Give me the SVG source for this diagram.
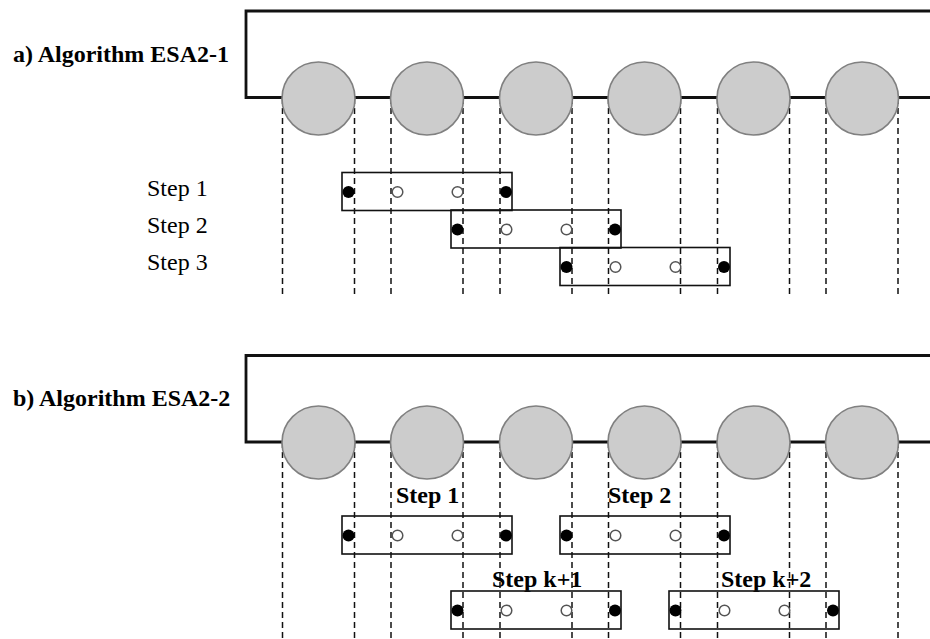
<svg xmlns="http://www.w3.org/2000/svg" width="930" height="639" viewBox="0 0 930 639">
<style>
.frame{fill:none;stroke:#111;stroke-width:2.8}
.dash{stroke:#111;stroke-width:1.5;stroke-dasharray:6 4}
.node{fill:#cccccc;stroke:#808080;stroke-width:1.6}
.box{fill:none;stroke:#111;stroke-width:1.6}
.full{fill:#000}
.empty{fill:#fff;stroke:#555;stroke-width:1.5}
.title{font-family:"Liberation Serif",serif;font-weight:bold;font-size:24px;fill:#000}
.step{font-family:"Liberation Serif",serif;font-size:24px;fill:#000}
.stepb{font-family:"Liberation Serif",serif;font-weight:bold;font-size:24px;fill:#000}
</style>
<defs>
<g id="win">
<rect class="box" x="0" y="0" width="170" height="38"/>
<circle class="full" cx="6.5" cy="19.5" r="6"/>
<circle class="empty" cx="55.5" cy="19.5" r="5.3"/>
<circle class="empty" cx="115.5" cy="19.5" r="5.3"/>
<circle class="full" cx="164" cy="19.5" r="6"/>
</g>
</defs>
<rect width="930" height="639" fill="#fff"/>

<!-- a) -->
<text class="title" x="13" y="62">a) Algorithm ESA2-1</text>
<g id="connectors-a">
<polyline class="frame" points="931,11 246,11 246,97.5 931,97.5"/>
<g>
<line class="dash" x1="282.5" y1="98" x2="282.5" y2="298"/>
<line class="dash" x1="354.5" y1="98" x2="354.5" y2="298"/>
<line class="dash" x1="391" y1="98" x2="391" y2="298"/>
<line class="dash" x1="463" y1="98" x2="463" y2="298"/>
<line class="dash" x1="500" y1="98" x2="500" y2="298"/>
<line class="dash" x1="572" y1="98" x2="572" y2="298"/>
<line class="dash" x1="608.5" y1="98" x2="608.5" y2="298"/>
<line class="dash" x1="680.5" y1="98" x2="680.5" y2="298"/>
<line class="dash" x1="717.5" y1="98" x2="717.5" y2="298"/>
<line class="dash" x1="789.5" y1="98" x2="789.5" y2="298"/>
<line class="dash" x1="826" y1="98" x2="826" y2="298"/>
<line class="dash" x1="898" y1="98" x2="898" y2="298"/>
</g>
</g>
<g id="a-node1"><circle class="node" cx="318.5" cy="98.5" r="36.5"/></g>
<g id="a-node2"><circle class="node" cx="427" cy="98.5" r="36.5"/></g>
<g id="a-node3"><circle class="node" cx="536" cy="98.5" r="36.5"/></g>
<g id="a-node4"><circle class="node" cx="644.5" cy="98.5" r="36.5"/></g>
<g id="a-node5"><circle class="node" cx="753.5" cy="98.5" r="36.5"/></g>
<g id="a-node6"><circle class="node" cx="862" cy="98.5" r="36.5"/></g>

<g id="a-step1"><text class="step" x="147" y="196">Step 1</text><use href="#win" x="342" y="172.5"/></g>
<g id="a-step2"><text class="step" x="147" y="233">Step 2</text><use href="#win" x="451" y="210"/></g>
<g id="a-step3"><text class="step" x="147" y="270">Step 3</text><use href="#win" x="560" y="247.5"/></g>

<!-- b) -->
<text class="title" x="13" y="406">b) Algorithm ESA2-2</text>
<g id="connectors-b">
<polyline class="frame" points="931,355.5 246,355.5 246,442 931,442"/>
<g>
<line class="dash" x1="282.5" y1="442" x2="282.5" y2="639"/>
<line class="dash" x1="354.5" y1="442" x2="354.5" y2="639"/>
<line class="dash" x1="391" y1="442" x2="391" y2="639"/>
<line class="dash" x1="463" y1="442" x2="463" y2="639"/>
<line class="dash" x1="500" y1="442" x2="500" y2="639"/>
<line class="dash" x1="572" y1="442" x2="572" y2="639"/>
<line class="dash" x1="608.5" y1="442" x2="608.5" y2="639"/>
<line class="dash" x1="680.5" y1="442" x2="680.5" y2="639"/>
<line class="dash" x1="717.5" y1="442" x2="717.5" y2="639"/>
<line class="dash" x1="789.5" y1="442" x2="789.5" y2="639"/>
<line class="dash" x1="826" y1="442" x2="826" y2="639"/>
<line class="dash" x1="898" y1="442" x2="898" y2="639"/>
</g>
</g>
<g id="b-node1"><circle class="node" cx="318.5" cy="442.5" r="36.5"/></g>
<g id="b-node2"><circle class="node" cx="427" cy="442.5" r="36.5"/></g>
<g id="b-node3"><circle class="node" cx="536" cy="442.5" r="36.5"/></g>
<g id="b-node4"><circle class="node" cx="644.5" cy="442.5" r="36.5"/></g>
<g id="b-node5"><circle class="node" cx="753.5" cy="442.5" r="36.5"/></g>
<g id="b-node6"><circle class="node" cx="862" cy="442.5" r="36.5"/></g>

<g id="b-step1"><text class="stepb" x="396" y="503">Step 1</text><use href="#win" x="342" y="516"/></g>
<g id="b-step2"><text class="stepb" x="608" y="503">Step 2</text><use href="#win" x="560" y="516"/></g>
<g id="b-stepk1"><text class="stepb" x="492" y="587">Step k+1</text><use href="#win" x="451" y="591"/></g>
<g id="b-stepk2"><text class="stepb" x="721" y="587">Step k+2</text><use href="#win" x="669" y="591"/></g>
</svg>
